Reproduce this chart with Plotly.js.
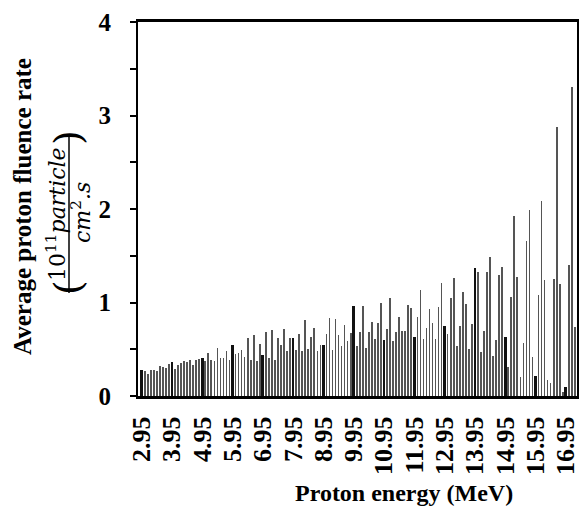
<!DOCTYPE html>
<html>
<head>
<meta charset="utf-8">
<script src="https://cdn.plot.ly/plotly-3.0.1.min.js"></script>
<style>
  html, body { margin: 0; padding: 0; background: #fff; }
  #chart { width: 579px; height: 506px; }
</style>
</head>
<body>
<div id="chart"></div>
<script>
// Proton energy (MeV), one bar per 0.1 MeV bin
var energies = [
  2.95, 3.05, 3.15, 3.25, 3.35, 3.45, 3.55, 3.65, 3.75, 3.85,
  3.95, 4.05, 4.15, 4.25, 4.35, 4.45, 4.55, 4.65, 4.75, 4.85,
  4.95, 5.05, 5.15, 5.25, 5.35, 5.45, 5.55, 5.65, 5.75, 5.85,
  5.95, 6.05, 6.15, 6.25, 6.35, 6.45, 6.55, 6.65, 6.75, 6.85,
  6.95, 7.05, 7.15, 7.25, 7.35, 7.45, 7.55, 7.65, 7.75, 7.85,
  7.95, 8.05, 8.15, 8.25, 8.35, 8.45, 8.55, 8.65, 8.75, 8.85,
  8.95, 9.05, 9.15, 9.25, 9.35, 9.45, 9.55, 9.65, 9.75, 9.85,
  9.95, 10.05, 10.15, 10.25, 10.35, 10.45, 10.55, 10.65, 10.75, 10.85,
  10.95, 11.05, 11.15, 11.25, 11.35, 11.45, 11.55, 11.65, 11.75, 11.85,
  11.95, 12.05, 12.15, 12.25, 12.35, 12.45, 12.55, 12.65, 12.75, 12.85,
  12.95, 13.05, 13.15, 13.25, 13.35, 13.45, 13.55, 13.65, 13.75, 13.85,
  13.95, 14.05, 14.15, 14.25, 14.35, 14.45, 14.55, 14.65, 14.75, 14.85,
  14.95, 15.05, 15.15, 15.25, 15.35, 15.45, 15.55, 15.65, 15.75, 15.85,
  15.95, 16.05, 16.15, 16.25, 16.35, 16.45, 16.55, 16.65, 16.75, 16.85,
  16.95, 17.05, 17.15, 17.25
];

// Average proton fluence rate (10^11 particle / cm^2.s)
var fluenceRate = [
  0.28, 0.27, 0.24, 0.28, 0.28, 0.27, 0.32, 0.31, 0.30, 0.34,
  0.36, 0.29, 0.33, 0.35, 0.37, 0.36, 0.39, 0.33, 0.39, 0.40,
  0.41, 0.37, 0.46, 0.39, 0.37, 0.51, 0.41, 0.41, 0.48, 0.38,
  0.55, 0.45, 0.46, 0.49, 0.42, 0.62, 0.38, 0.65, 0.37, 0.56,
  0.44, 0.68, 0.41, 0.71, 0.38, 0.62, 0.55, 0.72, 0.48, 0.62,
  0.62, 0.49, 0.66, 0.48, 0.81, 0.50, 0.63, 0.73, 0.48, 0.55,
  0.55, 0.66, 0.83, 0.49, 0.82, 0.65, 0.54, 0.76, 0.59, 0.67,
  0.96, 0.54, 0.68, 0.96, 0.51, 0.68, 0.79, 0.61, 0.78, 0.99,
  0.60, 0.72, 1.05, 0.59, 0.68, 0.84, 0.70, 0.70, 0.97, 0.94,
  0.63, 0.84, 1.13, 0.61, 0.73, 0.93, 0.78, 0.61, 0.95, 1.21,
  0.75, 0.66, 1.05, 1.26, 0.54, 0.75, 1.11, 0.98, 0.50, 0.77,
  1.37, 1.33, 0.47, 0.69, 1.33, 1.49, 0.43, 0.60, 1.29, 1.38,
  0.63, 0.31, 1.06, 1.93, 1.27, 0.20, 0.57, 1.66, 1.99, 0.42,
  0.21, 1.08, 2.09, 1.24, 0.17, 0.14, 1.25, 2.88, 1.20, 0.04,
  0.10, 1.40, 3.30, 0.74
];

var xTickVals = [2.95, 3.95, 4.95, 5.95, 6.95, 7.95, 8.95, 9.95, 10.95, 11.95, 12.95, 13.95, 14.95, 15.95, 16.95];
var xTickText = ['2.95', '3.95', '4.95', '5.95', '6.95', '7.95', '8.95', '9.95', '10.95', '11.95', '12.95', '13.95', '14.95', '15.95', '16.95'];
var yTickVals = [0, 0.5, 1, 1.5, 2, 2.5, 3, 3.5, 4];
var yTickText = ['0', ' ', '1', ' ', '2', ' ', '3', ' ', '4'];

function bold(t) { return t.trim() ? '<b>' + t + '</b>' : t; }

// styling: bars at the labelled energies are drawn heavier, as in the original
var barColors = energies.map(function (e, i) { return i % 10 === 0 ? '#111111' : '#555555'; });
var barWidths = energies.map(function (e, i) { return i % 10 === 0 ? 0.09 : 0.055; });

var SERIF = 'Liberation Serif, Times New Roman, serif';
var MATH = 'DejaVu Serif, serif';
var PLOT_L = 138, PLOT_B = 396;

var trace = {
  type: 'bar',
  x: energies,
  y: fluenceRate,
  width: barWidths,
  marker: { color: barColors, line: { width: 0 } },
  hoverinfo: 'x+y'
};

function ann(text, px, py, size, family, angle) {
  return {
    text: text, xref: 'paper', yref: 'paper', x: 0, y: 0,
    xshift: px - PLOT_L, yshift: PLOT_B - py,
    xanchor: 'center', yanchor: 'middle', showarrow: false,
    textangle: angle,
    font: { family: family, size: size, color: '#000' }
  };
}

var layout = {
  width: 579, height: 506,
  margin: { l: 138, r: 2, t: 22, b: 110 },
  paper_bgcolor: '#fff', plot_bgcolor: '#fff',
  showlegend: false,
  bargap: 0,
  xaxis: {
    type: 'linear',
    range: [2.83, 17.32],
    tickmode: 'array', tickvals: xTickVals, ticktext: xTickText.map(bold),
    tickangle: -90,
    ticks: '', ticklabelstandoff: 7,
    ticklabeloverflow: 'allow',
    tickfont: { family: SERIF, size: 26, color: '#000' },
    showgrid: false, zeroline: false,
    showline: true, linecolor: '#000', linewidth: 3, mirror: true
  },
  yaxis: {
    range: [0, 4],
    tickmode: 'array', tickvals: yTickVals, ticktext: yTickText.map(bold),
    ticks: 'outside', ticklen: 6, tickwidth: 2, tickcolor: '#000',
    ticklabelstandoff: 14,
    tickfont: { family: SERIF, size: 25, color: '#000' },
    showgrid: false, zeroline: false,
    showline: true, linecolor: '#000', linewidth: 2, mirror: true
  },
  annotations: [
    ann('<b>Proton energy (MeV)</b>', 404, 493, 24, SERIF, 0),
    ann('<b>Average proton fluence rate</b>', 22, 207, 25, SERIF, -90),
    ann('10<sup>11</sup><i>particle</i>', 56, 214, 22, MATH, -90),
    ann('<i>cm</i><sup>2</sup><i>.s</i>', 81, 213, 22, MATH, -90),
    ann('(', 68, 288, 38, MATH, -90),
    ann(')', 68, 138, 38, MATH, -90)
  ],
  shapes: [
    {
      type: 'line', xref: 'paper', yref: 'paper',
      xsizemode: 'pixel', xanchor: 0, x0: 69 - PLOT_L, x1: 69 - PLOT_L,
      ysizemode: 'pixel', yanchor: 0, y0: PLOT_B - 293, y1: PLOT_B - 135,
      line: { color: '#000', width: 1.5 }
    }
  ]
};

Plotly.newPlot('chart', [trace], layout, { displayModeBar: false, staticPlot: true });
</script>
</body>
</html>
